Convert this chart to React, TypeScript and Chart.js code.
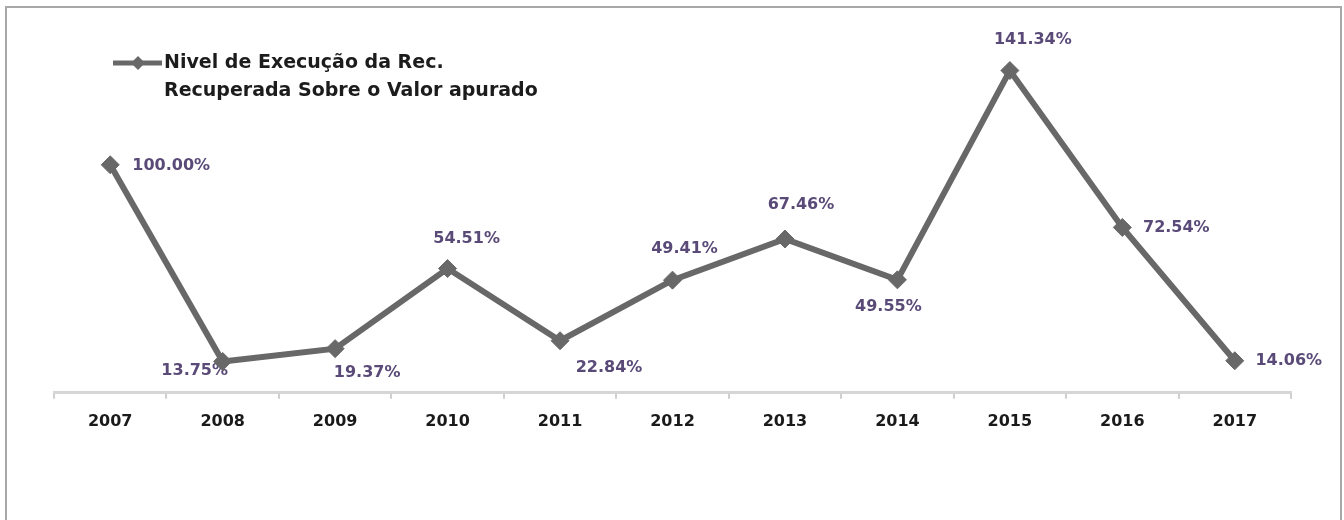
import React, { useEffect, useRef } from "react";
import { Chart, registerables } from "chart.js";

Chart.register(...registerables);

const YEARS = ["2007", "2008", "2009", "2010", "2011", "2012", "2013", "2014", "2015", "2016", "2017"];
const VALUES = [100.0, 13.75, 19.37, 54.51, 22.84, 49.41, 67.46, 49.55, 141.34, 72.54, 14.06];
const VALUE_LABELS = ["100.00%", "13.75%", "19.37%", "54.51%", "22.84%", "49.41%", "67.46%", "49.55%", "141.34%", "72.54%", "14.06%"];
const LEGEND_LINES = ["Nivel de Execução da Rec.", "Recuperada Sobre o Valor apurado"];

// label placement relative to each point (pixel offsets of label centre)
const LABEL_OFFSETS: [number, number][] = [
  [61, 1], [-28, 9], [32, 24], [19, -30], [49, 27], [12, -31],
  [16, -34], [-9, 27], [23, -31], [54, 0], [54, 0],
];

const LINE_COLOR = "#686868";
const LABEL_COLOR = "#5a4a78";
const FONT = "'DejaVu Sans', Verdana, sans-serif";

const dataLabelPlugin = {
  id: "dataLabels",
  beforeDatasetsDraw(chart: any) {
    const ctx = chart.ctx;
    const meta = chart.getDatasetMeta(0);
    ctx.save();
    ctx.font = `bold 16px ${FONT}`;
    ctx.fillStyle = LABEL_COLOR;
    ctx.textAlign = "center";
    ctx.textBaseline = "middle";
    meta.data.forEach((pt: any, i: number) => {
      const [dx, dy] = LABEL_OFFSETS[i];
      ctx.fillText(VALUE_LABELS[i], pt.x + dx, pt.y + dy);
    });
    ctx.restore();
  },
};

const legendPlugin = {
  id: "customLegend",
  afterDraw(chart: any) {
    const ctx = chart.ctx;
    ctx.save();
    ctx.strokeStyle = LINE_COLOR;
    ctx.lineWidth = 5;
    ctx.beginPath();
    ctx.moveTo(113, 63);
    ctx.lineTo(162, 63);
    ctx.stroke();
    ctx.fillStyle = LINE_COLOR;
    ctx.beginPath();
    ctx.moveTo(138, 56);
    ctx.lineTo(145, 63);
    ctx.lineTo(138, 70);
    ctx.lineTo(131, 63);
    ctx.closePath();
    ctx.fill();
    ctx.font = `bold 19px ${FONT}`;
    ctx.fillStyle = "#1c1c1c";
    ctx.textAlign = "left";
    ctx.textBaseline = "middle";
    ctx.fillText(LEGEND_LINES[0], 164, 63);
    ctx.fillText(LEGEND_LINES[1], 164, 91);
    ctx.restore();
  },
};

export default function App() {
  const ref = useRef<HTMLCanvasElement | null>(null);

  useEffect(() => {
    if (!ref.current) return;
    const chart = new Chart(ref.current, {
      type: "line",
      data: {
        labels: YEARS,
        datasets: [
          {
            label: LEGEND_LINES.join(" "),
            data: VALUES,
            borderColor: LINE_COLOR,
            backgroundColor: LINE_COLOR,
            borderWidth: 6,
            pointStyle: "rectRot",
            pointRadius: 9,
            pointBorderWidth: 1,
            pointBackgroundColor: LINE_COLOR,
            pointBorderColor: LINE_COLOR,
            tension: 0,
            fill: false,
          },
        ],
      },
      options: {
        animation: false,
        responsive: false,
        devicePixelRatio: 1,
        layout: { padding: { left: 54, right: 53, top: 28, bottom: 76 } },
        plugins: {
          legend: { display: false },
          tooltip: { enabled: false },
        },
        scales: {
          x: {
            type: "category",
            offset: true,
            grid: {
              offset: true,
              drawOnChartArea: false,
              drawTicks: true,
              tickLength: 6,
              color: "#cfcfcf",
              lineWidth: 2,
            },
            border: { display: true, color: "#d6d6d6", width: 3 },
            ticks: {
              color: "#1a1a1a",
              padding: 13,
              font: { family: FONT, size: 16, weight: "bold" },
              maxRotation: 0,
            },
          },
          y: {
            display: false,
            min: 0,
            max: 160,
          },
        },
      },
      plugins: [dataLabelPlugin, legendPlugin],
    });
    return () => chart.destroy();
  }, []);

  return (
    <div style={{ position: "fixed", left: 0, top: 0, width: 1344, height: 520, overflow: "hidden", background: "#fff" }}>
      <div
        style={{
          position: "absolute",
          left: 5,
          top: 6,
          width: 1333,
          height: 600,
          border: "2px solid #a8a8a8",
          boxSizing: "content-box",
        }}
      />
      <canvas ref={ref} width={1344} height={520} style={{ position: "absolute", left: 0, top: 0, width: 1344, height: 520 }} />
    </div>
  );
}
